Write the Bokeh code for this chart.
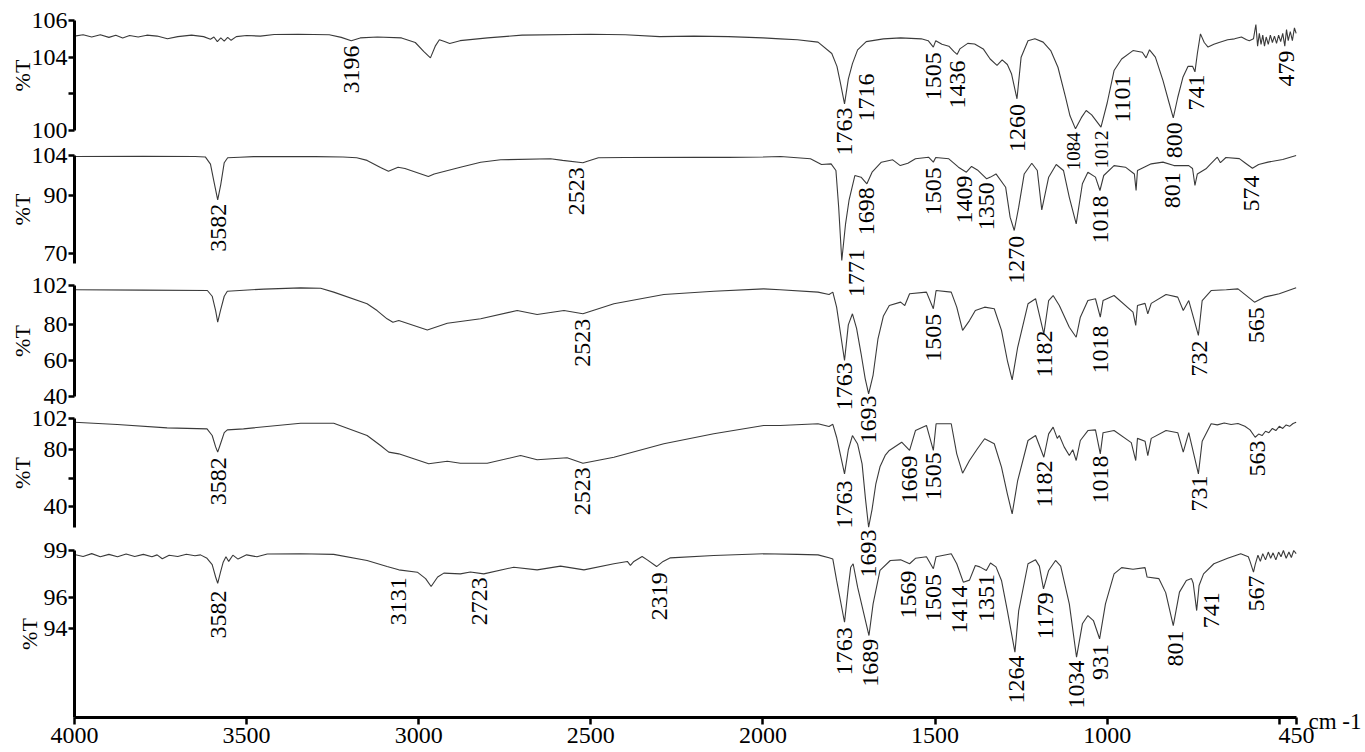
import numpy as np
from bokeh.plotting import figure
from bokeh.models import Range1d, LinearAxis, FixedTicker, ColumnDataSource, Label
from bokeh.core.properties import value
from bokeh.embed import file_html
from bokeh.resources import INLINE

# ---------------------------------------------------------------------------
# FT-IR spectra, top to bottom: (wavenumber cm-1, %T)
# ---------------------------------------------------------------------------
s1 = [(4000, 105.15), (3975, 105.22), (3950, 105.1), (3925, 105.22), (3900, 105.08), (3880, 105.2),
      (3860, 105.05), (3840, 105.18), (3815, 105.1), (3790, 105.2), (3760, 105.15), (3730, 105.0),
      (3700, 105.12), (3660, 105.2), (3625, 105.12), (3605, 104.98), (3595, 105.1), (3585, 104.85),
      (3575, 105.05), (3565, 104.88), (3555, 105.08), (3545, 104.92), (3530, 105.12), (3500, 105.18),
      (3460, 105.15), (3420, 105.24), (3350, 105.25), (3260, 105.22), (3225, 105.08), (3196, 104.9),
      (3170, 105.05), (3120, 105.1), (3050, 105.05), (3010, 104.8), (2985, 104.3), (2966, 103.96),
      (2952, 104.6), (2940, 104.95), (2925, 104.85), (2910, 104.75), (2880, 104.9), (2800, 105.05),
      (2700, 105.2), (2500, 105.25), (2400, 105.22), (2300, 105.12), (2200, 105.15), (2100, 105.12),
      (2000, 105.05), (1950, 105.0), (1900, 104.95), (1840, 104.82), (1800, 104.2), (1785, 103.5),
      (1775, 102.6), (1763, 101.45), (1752, 102.8), (1740, 103.65), (1725, 104.4), (1700, 104.85),
      (1650, 105.0), (1600, 105.05), (1540, 105.0), (1520, 104.9), (1505, 104.55), (1498, 104.9),
      (1480, 104.7), (1460, 104.6), (1445, 104.3), (1436, 104.15), (1428, 104.45), (1405, 104.75),
      (1385, 104.72), (1360, 104.45), (1340, 103.9), (1320, 103.55), (1305, 103.85), (1290, 103.6),
      (1278, 103.1), (1262, 101.73), (1250, 104.0), (1230, 104.9), (1210, 105.0), (1186, 104.82),
      (1164, 104.36), (1143, 103.45), (1121, 101.82), (1108, 100.8), (1092, 100.09), (1075, 100.7),
      (1061, 101.09), (1045, 100.85), (1018, 100.18), (1000, 101.5), (980, 103.27), (958, 103.9),
      (925, 104.36), (898, 104.27), (887, 103.96), (877, 104.4), (860, 104.0), (838, 102.73),
      (820, 101.5), (808, 100.69), (795, 101.8), (780, 102.9), (765, 103.5), (752, 103.5),
      (745, 103.2), (738, 104.2), (729, 105.27), (718, 104.8), (707, 104.55), (690, 104.7),
      (675, 104.8), (650, 104.95), (630, 105.0), (610, 105.1), (595, 104.95), (587, 104.9),
      (575, 105.0), (568, 105.78), (563, 104.6), (558, 105.3), (553, 104.7), (548, 105.2),
      (543, 104.6), (538, 105.1), (532, 104.7), (526, 105.2), (520, 104.8), (514, 105.15),
      (508, 104.75), (502, 105.2), (496, 104.85), (490, 105.3), (484, 104.6), (479, 105.5),
      (474, 104.9), (468, 105.4), (462, 104.9), (456, 105.6), (451, 105.3)]

s2 = [(4000, 103.65), (3800, 103.7), (3650, 103.65), (3620, 103.5), (3605, 101.0), (3595, 95.0),
      (3584, 88.6), (3575, 94.0), (3565, 101.5), (3555, 103.2), (3520, 103.4), (3480, 103.6),
      (3400, 103.65), (3300, 103.6), (3220, 103.5), (3180, 103.2), (3150, 102.3), (3111, 99.8),
      (3088, 98.55), (3060, 99.95), (3040, 99.5), (2972, 96.7), (2955, 97.6), (2879, 99.95),
      (2820, 101.68), (2762, 102.5), (2617, 102.85), (2582, 102.3), (2523, 101.47), (2510, 102.0),
      (2478, 103.2), (2400, 103.3), (2200, 103.4), (2100, 103.35), (2000, 103.5), (1949, 103.65),
      (1862, 102.85), (1830, 100.88), (1802, 101.1), (1788, 98.8), (1780, 86.06), (1771, 67.57),
      (1760, 80.3), (1750, 88.4), (1733, 97.06), (1715, 96.47), (1698, 94.17), (1683, 98.22),
      (1656, 101.68), (1623, 102.5), (1601, 100.5), (1579, 101.3), (1557, 102.85), (1519, 103.4),
      (1505, 101.7), (1498, 103.3), (1460, 102.85), (1432, 99.95), (1409, 98.2), (1394, 100.2),
      (1377, 99.0), (1350, 95.9), (1339, 96.5), (1323, 97.6), (1295, 93.0), (1282, 82.6),
      (1270, 77.98), (1257, 86.06), (1241, 97.6), (1219, 101.3), (1203, 98.8), (1190, 85.15),
      (1170, 96.47), (1148, 100.88), (1127, 98.8), (1110, 89.5), (1090, 80.3), (1072, 94.2),
      (1056, 98.2), (1034, 96.5), (1021, 91.86), (1010, 97.06), (980, 100.5), (947, 99.95),
      (921, 97.6), (916, 91.86), (912, 98.8), (872, 101.1), (838, 101.7), (806, 100.5),
      (763, 100.5), (752, 99.5), (745, 93.6), (738, 97.6), (713, 99.4), (700, 101.0),
      (680, 103.4), (671, 101.5), (655, 103.3), (616, 102.9), (600, 101.5), (578, 99.6),
      (560, 100.9), (533, 101.7), (490, 102.6), (451, 104.0)]

s3 = [(4000, 99.6), (3800, 99.4), (3614, 99.2), (3600, 96.0), (3590, 88.0), (3584, 81.5),
      (3576, 88.0), (3565, 96.0), (3556, 98.8), (3450, 100.0), (3343, 100.7), (3285, 100.5),
      (3247, 98.3), (3150, 91.8), (3121, 88.0), (3092, 83.4), (3075, 81.5), (3058, 82.4),
      (2975, 77.2), (2917, 80.9), (2820, 83.4), (2714, 88.0), (2656, 85.8), (2578, 88.0),
      (2523, 86.2), (2433, 91.8), (2288, 97.0), (2143, 98.8), (1998, 100.1), (1950, 99.6),
      (1840, 98.3), (1808, 97.0), (1797, 98.3), (1786, 89.9), (1763, 60.1), (1752, 80.0),
      (1740, 86.2), (1728, 78.0), (1715, 64.0), (1703, 50.0), (1693, 41.5), (1680, 52.0),
      (1666, 72.0), (1650, 85.0), (1633, 90.8), (1600, 92.7), (1588, 90.8), (1574, 97.4),
      (1525, 98.3), (1505, 89.0), (1497, 99.2), (1453, 98.3), (1437, 89.9), (1420, 76.9),
      (1400, 82.4), (1383, 88.0), (1356, 89.9), (1328, 89.0), (1307, 76.9), (1290, 60.1),
      (1276, 49.3), (1260, 67.5), (1230, 91.8), (1208, 94.6), (1184, 75.0), (1170, 93.6),
      (1157, 96.4), (1139, 90.8), (1110, 78.7), (1090, 73.1), (1078, 84.3), (1056, 93.6),
      (1034, 94.6), (1020, 84.3), (1012, 93.6), (980, 96.4), (925, 87.1), (917, 79.7),
      (912, 90.8), (890, 92.0), (882, 86.2), (872, 92.0), (829, 97.0), (795, 95.5),
      (779, 88.0), (763, 93.6), (735, 74.1), (724, 93.6), (698, 99.2), (654, 99.6),
      (620, 100.1), (572, 92.7), (544, 95.5), (500, 97.4), (451, 100.7)]

s4 = [(4000, 99.4), (3876, 97.8), (3731, 95.4), (3615, 94.7), (3600, 90.0), (3590, 82.0),
      (3584, 78.3), (3576, 84.0), (3565, 92.0), (3556, 94.0), (3509, 94.7), (3343, 98.7),
      (3247, 98.7), (3150, 90.0), (3111, 83.0), (3087, 78.3), (3058, 77.1), (2971, 70.1),
      (2917, 71.9), (2879, 70.5), (2801, 70.5), (2704, 75.9), (2656, 72.9), (2569, 74.3),
      (2523, 70.5), (2433, 74.7), (2288, 84.2), (2143, 91.2), (1998, 97.1), (1950, 97.1),
      (1840, 98.3), (1808, 96.4), (1797, 97.9), (1786, 88.8), (1763, 63.0), (1752, 80.0),
      (1740, 90.0), (1725, 84.0), (1712, 70.0), (1702, 45.0), (1693, 25.4), (1683, 38.0),
      (1672, 56.0), (1660, 68.0), (1645, 76.0), (1633, 79.5), (1597, 85.3), (1574, 79.5),
      (1557, 93.5), (1525, 97.1), (1505, 79.5), (1497, 98.3), (1453, 98.3), (1437, 77.1),
      (1420, 63.5), (1400, 72.4), (1377, 80.7), (1356, 87.7), (1328, 84.2), (1307, 67.7),
      (1290, 48.9), (1276, 34.8), (1260, 58.3), (1230, 86.5), (1208, 90.0), (1184, 74.7),
      (1170, 91.2), (1157, 95.9), (1145, 88.0), (1139, 90.0), (1125, 82.0), (1110, 75.9),
      (1100, 80.0), (1090, 72.4), (1078, 86.5), (1056, 93.5), (1034, 94.0), (1020, 77.1),
      (1012, 92.0), (980, 93.5), (930, 85.0), (917, 72.4), (912, 88.0), (890, 86.0),
      (882, 75.9), (872, 88.0), (829, 93.5), (795, 92.0), (779, 78.3), (763, 92.0),
      (735, 63.0), (724, 86.0), (698, 98.3), (680, 97.5), (660, 98.8), (640, 97.8),
      (620, 98.5), (600, 96.5), (585, 94.0), (570, 88.8), (560, 91.0), (550, 90.0),
      (540, 93.0), (530, 92.0), (520, 95.0), (510, 93.5), (500, 96.5), (490, 95.0),
      (480, 97.5), (470, 96.5), (460, 98.5), (451, 99.4)]

s5 = [(4000, 98.74), (3975, 98.62), (3950, 98.8), (3925, 98.6), (3900, 98.75), (3875, 98.6),
      (3850, 98.78), (3825, 98.62), (3800, 98.75), (3775, 98.6), (3760, 98.72), (3745, 98.47),
      (3725, 98.7), (3700, 98.62), (3675, 98.76), (3650, 98.66), (3634, 98.72), (3615, 98.5),
      (3600, 98.1), (3590, 97.3), (3584, 96.9), (3576, 97.6), (3568, 98.25), (3560, 98.6),
      (3552, 98.3), (3540, 98.7), (3525, 98.45), (3500, 98.72), (3470, 98.6), (3440, 98.78),
      (3343, 98.79), (3247, 98.75), (3150, 98.36), (3092, 97.97), (3058, 97.76), (3004, 97.61),
      (2980, 97.2), (2964, 96.69), (2945, 97.3), (2927, 97.55), (2879, 97.5), (2850, 97.62),
      (2811, 97.5), (2724, 97.93), (2656, 97.76), (2588, 98.0), (2520, 97.76), (2433, 98.15),
      (2394, 98.3), (2385, 98.05), (2375, 98.3), (2351, 98.62), (2336, 98.4), (2309, 97.97),
      (2290, 98.3), (2269, 98.53), (2143, 98.68), (1998, 98.79), (1900, 98.75), (1840, 98.72),
      (1808, 98.53), (1797, 98.45), (1786, 97.08), (1763, 94.4), (1752, 96.65), (1745, 97.93),
      (1738, 98.15), (1725, 96.65), (1692, 93.55), (1680, 95.58), (1660, 97.72), (1630, 98.36),
      (1600, 98.4), (1574, 98.15), (1557, 98.5), (1525, 98.6), (1505, 97.83), (1497, 98.6),
      (1453, 98.79), (1437, 98.15), (1418, 96.97), (1400, 97.1), (1383, 98.04), (1370, 97.95),
      (1351, 97.72), (1339, 98.2), (1323, 97.95), (1307, 97.08), (1290, 95.15), (1268, 92.48),
      (1257, 95.15), (1230, 98.15), (1208, 98.4), (1197, 98.0), (1185, 96.54), (1170, 97.72),
      (1150, 98.36), (1135, 98.0), (1110, 95.58), (1089, 92.16), (1072, 94.3), (1056, 94.83),
      (1040, 94.51), (1022, 93.34), (1005, 95.58), (980, 97.5), (958, 97.9), (925, 97.8),
      (890, 97.9), (884, 97.3), (850, 97.2), (830, 96.3), (808, 94.19), (790, 96.33),
      (770, 97.08), (755, 97.2), (750, 96.9), (740, 95.15), (733, 96.76), (720, 97.5),
      (690, 98.15), (650, 98.5), (612, 98.79), (590, 98.6), (585, 98.3), (575, 97.61),
      (570, 98.1), (562, 98.7), (555, 98.3), (548, 98.8), (540, 98.4), (532, 98.9),
      (525, 98.5), (518, 98.85), (510, 98.4), (502, 98.9), (495, 98.6), (488, 99.0),
      (480, 98.5), (472, 98.9), (465, 98.55), (458, 99.0), (451, 98.8)]

# Assigned bands: (wavenumber, %T where the label starts)
p1_peaks = [(3196, 104.64), (1763, 101.25), (1716, 103.11), (1505, 104.27), (1436, 103.82),
            (1260, 101.45), (1084, 99.91), (1012, 100.0), (1101, 103.0), (800, 100.45),
            (741, 103.05), (479, 104.36)]
p2_peaks = [(3582, 87.24), (2523, 99.95), (1771, 71.6), (1698, 93.0), (1505, 99.95),
            (1409, 97.06), (1350, 94.7), (1270, 76.2), (1018, 90.1), (801, 98.2), (574, 97.06)]
p3_peaks = [(2523, 83.4), (1763, 59.2), (1693, 40.5), (1505, 86.2), (1182, 76.9),
            (1018, 79.7), (732, 71.3), (565, 89.9)]
p4_peaks = [(3582, 74.7), (2523, 67.7), (1763, 58.3), (1693, 23.8), (1669, 75.9),
            (1505, 78.3), (1182, 72.4), (1018, 75.9), (731, 61.8), (563, 86.5)]
p5_peaks = [(3582, 96.44), (3131, 97.29), (2723, 97.29), (2319, 97.61), (1763, 94.08),
            (1689, 93.34), (1569, 97.72), (1505, 97.5), (1414, 96.76), (1351, 97.5),
            (1264, 92.27), (1179, 96.33), (1034, 91.95), (931, 93.0), (801, 93.87),
            (741, 96.33), (567, 97.4)]

# Axis ticks
x_ticks = [4000, 3500, 3000, 2500, 2000, 1500, 1000, 500, 450]
x_ticks_blank = [500]
p1_ticks, p1_blank = [100, 102, 104, 106], [102]
p2_ticks, p2_blank = [70, 90, 104], []
p3_ticks, p3_blank = [40, 60, 80, 102], []
p4_ticks, p4_blank = [40, 60, 80, 102], [60]
p5_ticks, p5_blank = [94, 96, 99], []
x_unit = "cm -1"
y_title = "%T"

# ---------------------------------------------------------------------------
# Layout: the plot frame fills the whole canvas; the axes are pinned inside it
# ---------------------------------------------------------------------------
W, H = 1365, 752
AX_L, AX_R, AX_B = 74, 1296, 717      # canvas px of wavenumber 4000, 450 and of the x axis
WN_HI, WN_LO = 4000, 450
SERIF = "'Liberation Serif', 'Times New Roman', 'DejaVu Serif', serif"
INK = "#000000"
TRACE = "#3a3a3a"

px_per_wn = (AX_R - AX_L) / (WN_HI - WN_LO)
x_range = Range1d(start=WN_HI + AX_L / px_per_wn, end=WN_LO - (W - AX_R) / px_per_wn)


def panel_range(top, bottom):
    """Range whose `top`/`bottom` (value, canvas y) pairs land on those pixels."""
    (v_top, y_top), (v_bot, y_bot) = top, bottom
    px_per_unit = (y_bot - y_top) / (v_top - v_bot)
    return Range1d(start=v_top - (H - y_top) / px_per_unit, end=v_top + y_top / px_per_unit)


panels = [
    dict(series=s1, peaks=p1_peaks, ticks=p1_ticks, blank=p1_blank,
         top=(106, 20), bottom=(100, 130), bounds=(100, 106), title_gap=-6,
         dx={1716: 6, 1084: -5, 1012: -2, 1101: 50, 800: -2}, small={1084, 1012}),
    dict(series=s2, peaks=p2_peaks, ticks=p2_ticks, blank=p2_blank,
         top=(104, 155), bottom=(70, 253), bounds=(66.5, 104), title_gap=-6,
         dx={2523: -6, 1771: 15, 1409: -2, 1270: 2, 801: -3, 574: -2}, small=set()),
    dict(series=s3, peaks=p3_peaks, ticks=p3_ticks, blank=p3_blank,
         top=(102, 285), bottom=(40, 396), bounds=(40, 102), title_gap=-6,
         dx={}, small=set()),
    dict(series=s4, peaks=p4_peaks, ticks=p4_ticks, blank=p4_blank,
         top=(102, 418), bottom=(40, 506), bounds=(25.2, 102), title_gap=-6,
         dx={1669: 33}, small=set()),
    dict(series=s5, peaks=p5_peaks, ticks=p5_ticks, blank=p5_blank,
         top=(99, 550), bottom=(94, 628), bounds=(88.29, 99), title_gap=-1,
         dx={3131: 25, 2723: -35, 2319: 6, 1569: -3, 1414: -5, 1034: -19, 931: -30, 741: 15},
         small=set()),
]

p = figure(width=W, height=H, x_range=x_range, y_range=Range1d(0, H),
           output_backend="svg", toolbar_location=None, y_axis_location=None,
           min_border=0)
p.outline_line_color = None
p.xgrid.visible = False
p.ygrid.visible = False
p.background_fill_color = "white"
p.border_fill_color = "white"

# wavenumber axis pinned at its canvas row (primary y range counts px from the bottom)
xa = p.xaxis[0]
xa.fixed_location = H - AX_B
xa.bounds = (WN_HI, WN_LO)
xa.ticker = FixedTicker(ticks=x_ticks)
xa.major_label_overrides = {t: "" for t in x_ticks_blank}
xa.axis_line_width = 3
xa.axis_line_color = INK
xa.major_tick_line_width = 2.5
xa.major_tick_line_color = INK
xa.major_tick_out = 7
xa.major_tick_in = 0
xa.minor_tick_line_color = None
xa.major_label_standoff = 3
xa.major_label_text_font = SERIF
xa.major_label_text_font_size = "24px"
xa.major_label_text_color = INK

ranges = {f"p{i + 1}": panel_range(pan["top"], pan["bottom"]) for i, pan in enumerate(panels)}
p.extra_y_ranges = ranges

for i, pan in enumerate(panels):
    name = f"p{i + 1}"
    wn = [w for w, _ in pan["series"]]
    tr = [t for _, t in pan["series"]]
    p.line(x=wn, y=tr, y_range_name=name, line_color=TRACE, line_width=1.1)

    ax = LinearAxis(y_range_name=name, fixed_location=WN_HI, bounds=pan["bounds"],
                    ticker=FixedTicker(ticks=pan["ticks"]),
                    major_label_overrides={t: "" for t in pan["blank"]},
                    axis_label=y_title, axis_label_text_font=SERIF,
                    axis_label_text_font_size="22px", axis_label_text_font_style="normal",
                    axis_label_text_color=INK, axis_label_standoff=pan["title_gap"],
                    axis_line_width=3, axis_line_color=INK,
                    major_tick_line_width=2.5, major_tick_line_color=INK,
                    major_tick_out=6, major_tick_in=0, minor_tick_line_color=None,
                    major_label_standoff=1, major_label_text_font=SERIF,
                    major_label_text_font_size="24px", major_label_text_color=INK)
    p.add_layout(ax, "left")

    src = ColumnDataSource(dict(
        x=[w for w, _ in pan["peaks"]],
        y=[t for _, t in pan["peaks"]],
        text=[str(w) for w, _ in pan["peaks"]],
        dx=[pan["dx"].get(w, 0) for w, _ in pan["peaks"]],
        fs=["19px" if w in pan["small"] else "24px" for w, _ in pan["peaks"]],
    ))
    p.text(x="x", y="y", text="text", x_offset="dx", source=src, y_range_name=name,
           angle=np.pi / 2, text_align="right", text_baseline="middle",
           text_font=value(SERIF), text_font_size="fs", text_color=INK)

p.add_layout(Label(x=WN_LO, y=H - AX_B, text=x_unit,
                   x_offset=12, y_offset=-4, text_align="left", text_baseline="alphabetic",
                   text_font=SERIF, text_font_size="23px", text_color=INK))

open("out.html", "w").write(file_html(p, INLINE))
